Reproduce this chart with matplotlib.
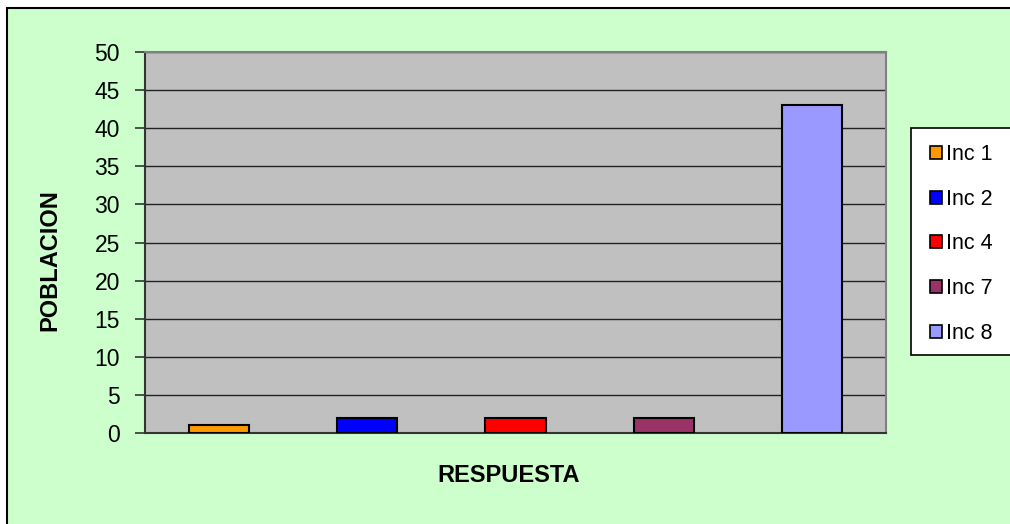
import matplotlib.pyplot as plt
from matplotlib.patches import Rectangle, Patch

# ------------------------------------------------------------------
# Data
# ------------------------------------------------------------------
series = ["Inc 1", "Inc 2", "Inc 4", "Inc 7", "Inc 8"]
values = [1, 2, 2, 2, 43]
colors = ["#FF9900", "#0000FF", "#FF0000", "#993366", "#9999FF"]
yticks = [0, 5, 10, 15, 20, 25, 30, 35, 40, 45, 50]

plt.rcParams["font.family"] = ["Liberation Sans", "DejaVu Sans"]

W, H = 1010, 524
fig = plt.figure(figsize=(W / 100, H / 100), dpi=100)
fig.patch.set_facecolor("white")

# chart area (green) with black border on left/top
fig.patches.append(Rectangle((7 / W, -0.05), 1.1, 1.05 - 8 / H, transform=fig.transFigure,
                             facecolor="#CCFFCC", edgecolor="black", linewidth=1.5,
                             zorder=-10))
# legend box, running off the right edge
fig.patches.append(Rectangle((911 / W, 1 - 355 / H), 0.2, (355 - 128) / H,
                             transform=fig.transFigure, facecolor="white",
                             edgecolor="black", linewidth=1.2, zorder=-5))

ax = fig.add_axes([145 / W, 1 - 433 / H, (886 - 145) / W, (433 - 52) / H])
ax.set_facecolor("#C0C0C0")

x = range(len(series))
ax.bar(x, values, width=0.405, color=colors, edgecolor="black", linewidth=1.5, zorder=3)

ax.set_xlim(-0.5, len(series) - 0.5)
ax.set_ylim(0, 50)
ax.set_yticks(yticks)
ax.set_yticklabels([str(t) for t in yticks], fontsize=16.5)
ax.set_xticks([])
ax.tick_params(axis="y", length=7, width=1.2, color="#333333", pad=11)
ax.grid(axis="y", color="#222222", linewidth=1.0, zorder=1)

for side in ["top", "right"]:
    ax.spines[side].set_color("#808080")
    ax.spines[side].set_linewidth(1.5)
for side in ["left", "bottom"]:
    ax.spines[side].set_color("#333333")
    ax.spines[side].set_linewidth(1.5)

fig.text(50 / W, 1 - 260 / H, "POBLACION", fontsize=17, fontweight="bold",
         rotation=90, ha="center", va="center")
fig.text(509 / W, 1 - 476 / H, "RESPUESTA", fontsize=17, fontweight="bold",
         ha="center", va="center")

handles = [Patch(facecolor=c, edgecolor="black", linewidth=1.2) for c in colors]
leg = fig.legend(handles, series, loc="upper left",
                 bbox_to_anchor=(930 / W, 1 - 144 / H),
                 fontsize=15.5, frameon=False,
                 handlelength=0.55, handleheight=0.55, handletextpad=0.2,
                 labelspacing=1.1, borderpad=0, borderaxespad=0)

fig.savefig("out.png", dpi=100, facecolor=fig.get_facecolor())
